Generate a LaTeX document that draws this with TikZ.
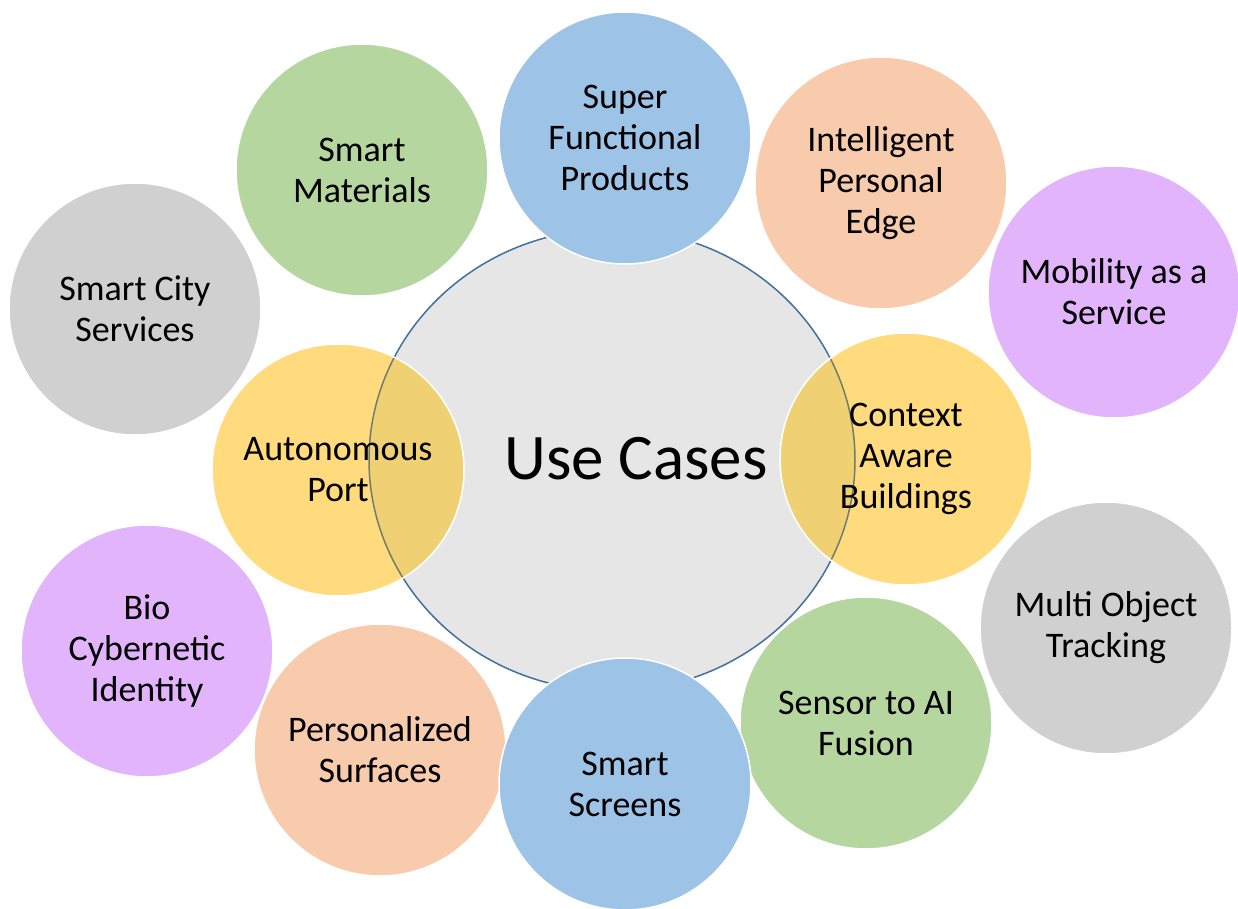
\documentclass[tikz,border=0pt]{standalone}
\usepackage{fontspec}
\setmainfont{Carlito}
\usepackage{tikz}
\usetikzlibrary{positioning, shapes.geometric}
\definecolor{UCblue}{HTML}{9DC3E6}
\definecolor{UCgreen}{HTML}{B6D6A0}
\definecolor{UCpeach}{HTML}{F8CBAD}
\definecolor{UCviolet}{HTML}{E2B4FB}
\definecolor{UCgrey}{HTML}{D0D0D0}
\definecolor{UCyellow}{HTML}{FFDB7D}
\definecolor{UChub}{HTML}{E7E6E6}
\definecolor{UCline}{HTML}{41719C}
\definecolor{UCovl}{HTML}{EFD072}

\begin{document}
\begin{tikzpicture}[x=0.5pt, y=-0.5pt,
  Bub/.style={circle, draw=white, line width=0.75pt, minimum size=126pt,
    inner sep=0pt, align=center, font=\fontsize{18}{20.5}\selectfont},
  Hub/.style={ellipse, draw=UCline, line width=0.75pt, fill=UChub,
    minimum width=243pt, minimum height=231pt, inner sep=0pt},
  Yel/.style={Bub, fill=UCyellow, path picture={
      \fill[UCovl] (UC.center) ellipse [x radius=121.5pt, y radius=115.5pt];
      \draw[UCline!55!UCovl!80!black, line width=0.75pt] (UC.center)
        ellipse [x radius=121.5pt, y radius=115.5pt];}}]
  \useasboundingbox (0,0) rectangle (1238,909);
  % hub
  \node [Hub] (UC) at (612,460) {};
  \node (UCt) at (636,459) {\fontsize{32.5}{36}\selectfont Use Cases};
  % ring of use cases
  \node [Bub, fill=UCgreen] (SM) at (362,170) {Smart\\Materials};
  \node [Bub, fill=UCgrey] (SCS) at (135,309) {Smart City\\Services};
  \node [Bub, fill=UCpeach] (IPE) at (881,183) {Intelligent\\Personal\\Edge};
  \node [Bub, fill=UCviolet] (MaaS) at (1114,292) {Mobility as a\\Service};
  \node [Yel] (AP) at (338,470) {Autonomous\\Port};
  \node [Yel] (CAB) at (906,459) {Context\\Aware\\Buildings};
  \node [Bub, fill=UCgrey] (MOT) at (1106,628) {Multi Object\\Tracking};
  \node [Bub, fill=UCviolet] (BCI) at (147,651) {Bio\\Cybernetic\\Identity};
  \node [Bub, fill=UCpeach] (PS) at (380,750) {Personalized\\Surfaces};
  \node [Bub, fill=UCgreen] (SAF) at (866,723) {Sensor to AI\\Fusion};
  \node [Bub, fill=UCblue] (SFP) at (625,138) {Super\\Functional\\Products};
  \node [Bub, fill=UCblue] (SS) at (625,784) {Smart\\Screens};
\end{tikzpicture}
\end{document}
